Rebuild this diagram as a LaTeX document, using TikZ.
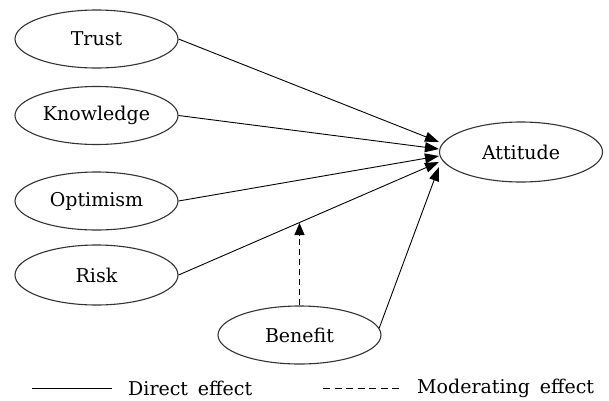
\documentclass[tikz,border=0pt]{standalone}
\usepackage{fontspec}
\setmainfont{DejaVu Serif}
\usetikzlibrary{shapes.geometric,arrows.meta}
\begin{document}
\begin{tikzpicture}[x=1pt,y=-1pt,
  var/.style={ellipse,draw=black!80,line width=1.1pt,inner sep=0pt,minimum width=163pt,font=\fontsize{19}{22}\selectfont},
  direct/.style={line width=0.9pt,-{Triangle[length=14pt,width=10pt]}},
  moder/.style={line width=0.9pt,dash pattern=on 6pt off 4pt,-{Triangle[length=12pt,width=10pt]}},
  legtext/.style={anchor=west,inner sep=0pt,font=\fontsize{19}{22}\selectfont}]
\useasboundingbox (0,0) rectangle (609,400);
\node[var,minimum height=58pt] (trust) at (96.5,39) {Trust};
\node[var,minimum height=58pt] (know) at (96.5,115.5) {Knowledge};
\node[var,minimum height=58pt] (opt) at (96.5,201) {Optimism};
\node[var,minimum height=60pt] (risk) at (96.5,275) {Risk};
\node[var,minimum height=58pt] (ben) at (299.5,335) {Benefit};
\node[var,minimum height=60pt] (att) at (521,152) {Attitude};
\draw[direct] (trust.east) -- ([yshift=10pt]att.west);
\draw[direct] (know.east) -- ([yshift=3pt]att.west);
\draw[direct] (opt.east) -- ([yshift=-4pt]att.west);
\draw[direct] (risk.east) -- ([yshift=-10pt]att.west);
\draw[direct] (ben.5) -- ([yshift=-15pt]att.west);
\coordinate (mod) at (299.5,223);
\draw[moder] (ben.north) -- (mod);
\coordinate (l1a) at (32,388);
\coordinate (l1b) at (112,388);
\coordinate (l2a) at (323,388);
\coordinate (l2b) at (403,388);
\draw[line width=0.9pt] (l1a) -- (l1b);
\draw[line width=0.9pt,dash pattern=on 7pt off 4.5pt] (l2a) -- (l2b);
\node[legtext] (dtext) at (128,388) {Direct\hspace{0.2em} effect};
\node[legtext] (mtext) at (417,388) {Moderating\hspace{0.2em} effect};
\end{tikzpicture}
\end{document}
